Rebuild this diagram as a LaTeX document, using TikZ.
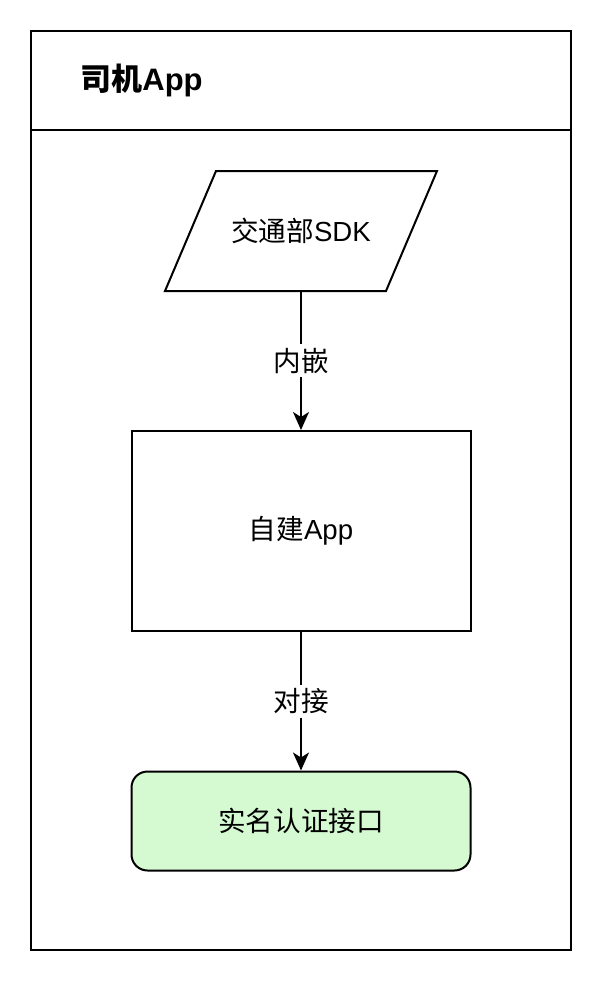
\documentclass[tikz,border=0pt]{standalone}
\usepackage{fontspec}
\setmainfont{Liberation Sans}
\newfontfamily\cjk{Noto Sans CJK SC}
\usetikzlibrary{arrows.meta, positioning}

\definecolor{apigreen}{RGB}{213,249,208}

\tikzset{
  box/.style={draw, line width=1pt, minimum width=169.5pt, minimum height=100pt,
              font=\fontsize{13.8}{16}\selectfont},
  apibox/.style={box, fill=apigreen, rounded corners=8pt, minimum height=49.5pt},
  link/.style={line width=1pt, -{Stealth[length=9pt, width=8pt, inset=2.5pt]}},
  linklabel/.style={fill=white, font=\fontsize{13.8}{16}\selectfont, inner sep=2pt}
}

\begin{document}
\begin{tikzpicture}[x=0.5pt, y=-0.5pt]
  \useasboundingbox (0,0) rectangle (606,986);

  % outer frame and header
  \draw[line width=1pt] (31,31) rectangle (571,950);
  \draw[line width=1pt] (31,130) -- (571,130);
  \node[anchor=west, inner sep=0pt, font=\fontsize{15.5}{18}\selectfont\bfseries] (title) at (80,80)
    {{\cjk\bfseries 司机}App};

  % SDK parallelogram
  \draw[line width=1pt] (216,171) -- (437,171) -- (386,291) -- (165,291) -- cycle;
  \node[minimum height=60pt, font=\fontsize{13.8}{16}\selectfont] (sdk) at (301,231)
    {{\cjk 交通部}SDK};

  \node[box] (app) at (301,531) {{\cjk 自建}App};
  \node[apibox] (api) at (301,821) {\cjk 实名认证接口};

  \draw[link] (sdk.south) -- (app.north)
    node[midway, linklabel] {\cjk 内嵌};
  \draw[link] (app.south) -- (api.north)
    node[midway, linklabel] {\cjk 对接};
\end{tikzpicture}
\end{document}
